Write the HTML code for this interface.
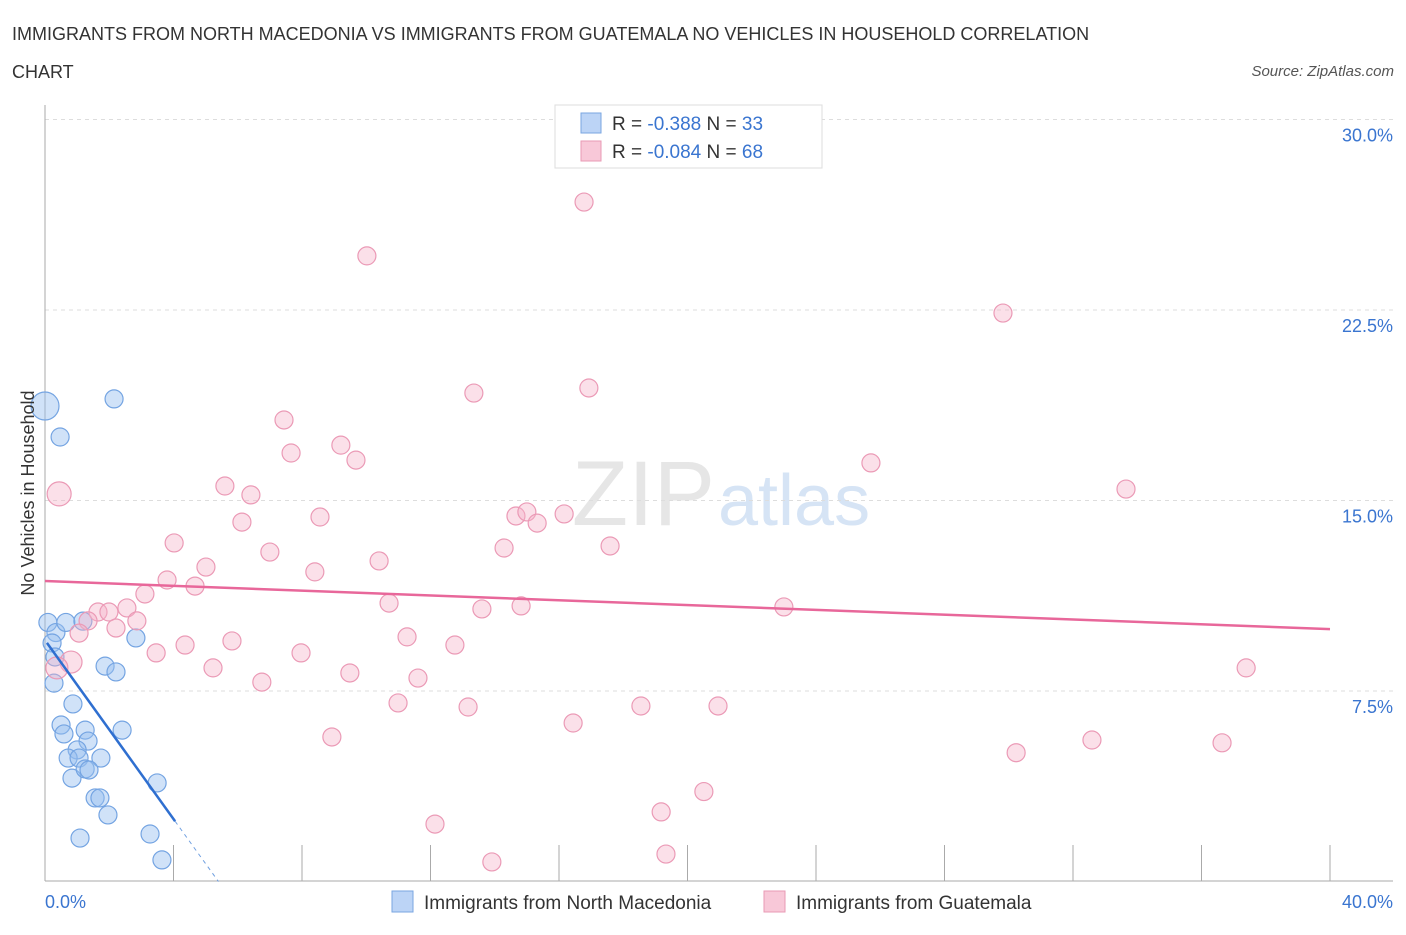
<!DOCTYPE html>
<html><head><meta charset="utf-8"><style>
body{margin:0;background:#fff;font-family:"Liberation Sans",sans-serif;}
svg text{font-family:"Liberation Sans",sans-serif;}
</style></head><body>
<svg id="chart" width="1406" height="930" xmlns="http://www.w3.org/2000/svg">
<text x="12" y="40" font-size="18" fill="#333">IMMIGRANTS FROM NORTH MACEDONIA VS IMMIGRANTS FROM GUATEMALA NO VEHICLES IN HOUSEHOLD CORRELATION</text>
<text x="12" y="78" font-size="18" fill="#333">CHART</text>
<text x="1394" y="76" font-size="15" fill="#555" text-anchor="end" font-style="italic">Source: ZipAtlas.com</text>
<text x="715" y="525" font-size="92" fill="#e6e6e6" text-anchor="end" font-family="Liberation Serif">ZIP</text>
<text x="718" y="525" font-size="72" fill="#d6e4f5">atlas</text>
<g id="grid"></g><g id="axes"></g><g id="pts"></g><g id="lines"></g>
<text transform="translate(34,493) rotate(-90)" font-size="18" fill="#333" text-anchor="middle">No Vehicles in Household</text>
<text x="45" y="908" font-size="18" fill="#3a75d0">0.0%</text>
<text x="1393" y="908" font-size="18" fill="#3a75d0" text-anchor="end">40.0%</text>
<g>
<rect x="555" y="105" width="267" height="63" fill="#fff" stroke="#ddd"/>
<rect x="581" y="113" width="20" height="20" fill="#bcd4f6" stroke="#7aa6e0"/>
<rect x="581" y="141" width="20" height="20" fill="#f8c8d8" stroke="#e89ab4"/>
<text x="612" y="130" font-size="19" fill="#333">R = <tspan fill="#3a75d0">-0.388</tspan>   N = <tspan fill="#3a75d0">33</tspan></text>
<text x="612" y="158" font-size="19" fill="#333">R = <tspan fill="#3a75d0">-0.084</tspan>   N = <tspan fill="#3a75d0">68</tspan></text>
</g>
<g>
<rect x="392" y="891" width="21" height="21" fill="#bcd4f6" stroke="#7aa6e0"/>
<text x="424" y="909" font-size="19" fill="#333">Immigrants from North Macedonia</text>
<rect x="764" y="891" width="21" height="21" fill="#f8c8d8" stroke="#e89ab4"/>
<text x="796" y="909" font-size="19" fill="#333">Immigrants from Guatemala</text>
</g>
</svg>
<script>
const yTicks=[7.5,15,22.5,30];
const yTickLabels=["7.5%","15.0%","22.5%","30.0%"];
const xTicks=[4,8,12,16,20,24,28,32,36,40];
const blueX=[0,2.15,0.47,0.09,0.34,0.65,1.18,0.22,0.31,2.83,1.87,2.21,0.28,0.87,0.5,1.25,2.4,0.59,1.34,1.0,0.72,1.06,1.74,0.84,1.25,1.37,1.56,1.71,1.96,3.49,1.09,3.27,3.64];
const blueY=[18.72,19.0,17.5,10.2,9.8,10.2,10.25,9.39,8.84,9.59,8.48,8.25,7.81,6.99,6.16,5.96,5.96,5.81,5.53,5.18,4.86,4.86,4.86,4.07,4.43,4.39,3.29,3.29,2.62,3.88,1.71,1.87,0.85];
const pinkX=[0.44,16.78,10.02,29.82,16.93,13.35,7.44,9.21,7.66,9.68,25.71,5.6,33.65,6.41,6.13,8.56,14.66,15.0,15.32,16.16,4.02,7.0,14.29,17.59,10.4,5.01,8.4,3.8,4.67,3.11,10.71,13.6,14.82,23.0,2.55,1.65,1.99,1.34,2.86,2.21,1.06,11.27,5.82,4.36,12.76,3.46,7.97,0.81,0.37,5.23,37.39,9.49,11.61,6.75,10.99,13.17,18.55,20.95,16.44,8.93,32.59,36.64,30.23,20.51,19.18,12.14,19.33,13.91];
const pinkY=[15.26,26.75,24.63,22.38,19.43,19.23,18.17,17.18,16.87,16.59,16.48,15.57,15.45,15.22,14.15,14.35,14.39,14.55,14.11,14.47,13.33,12.97,13.13,13.21,12.62,12.38,12.19,11.87,11.63,11.32,10.96,10.73,10.85,10.81,10.77,10.61,10.61,10.26,10.26,9.98,9.78,9.63,9.47,9.31,9.31,9.0,9.0,8.64,8.41,8.41,8.41,8.21,8.01,7.85,7.03,6.87,6.91,6.91,6.24,5.69,5.57,5.46,5.07,3.54,2.74,2.26,1.08,0.77];
const blueTrend=[9.5,-1.76];
const pinkTrend=[11.83,-0.0473];
const NS="http://www.w3.org/2000/svg";
const X=v=>45+v*32.125, Y=v=>881.5-v*25.4;
function mk(p,t,a){const e=document.createElementNS(NS,t);for(const k in a)e.setAttribute(k,a[k]);document.getElementById(p).appendChild(e);return e;}
yTicks.forEach((t,i)=>{
 const l=mk('grid','line',{x1:45,x2:1393,y1:Y(t),y2:Y(t),stroke:'#ddd','stroke-dasharray':'4,4'});
 
 
 const tx=mk('grid','text',{x:1393,y:Y(t)+22,'font-size':18,fill:'#3a75d0','text-anchor':'end'});
 tx.textContent=yTickLabels[i];
 
 
});
const ax=mk('axes','line',{x1:45,x2:45,y1:105,y2:881,stroke:'#aaa'});


const bx=mk('axes','line',{x1:45,x2:1393,y1:881,y2:881,stroke:'#aaa'});


xTicks.forEach(t=>{
 const l=mk('axes','line',{x1:X(t),x2:X(t),y1:845,y2:881,stroke:'#aaa'});
 
 
});
blueX.forEach((x,i)=>{
 const r=(i==0)?14:9;
 const c=mk('pts','circle',{cx:X(x),cy:Y(blueY[i]),r:r,fill:'rgba(150,190,240,0.45)',stroke:'#74a4e2','stroke-width':1.2});
 
 
});
pinkX.forEach((x,i)=>{
 const r=(i==0)?12:(i==47||i==48)?11:9;
 const c=mk('pts','circle',{cx:X(x),cy:Y(pinkY[i]),r:r,fill:'rgba(246,178,200,0.4)',stroke:'#eb9ab6','stroke-width':1.2});
 
 
});
const pl=mk('lines','line',{x1:X(0),y1:Y(pinkTrend[0]),x2:X(40),y2:Y(pinkTrend[0]+pinkTrend[1]*40),stroke:'#e8679a','stroke-width':2.5});


const bl=mk('lines','line',{x1:X(0.06),y1:Y(blueTrend[0]+blueTrend[1]*0.06),x2:X(4.05),y2:Y(blueTrend[0]+blueTrend[1]*4.05),stroke:'#2f6fd0','stroke-width':2.5});


const bd=mk('lines','line',{x1:X(4.05),y1:Y(blueTrend[0]+blueTrend[1]*4.05),x2:X(5.4),y2:Y(blueTrend[0]+blueTrend[1]*5.4),stroke:'#6f9fe0','stroke-width':1,'stroke-dasharray':'4,4'});


</script>
</body></html>
